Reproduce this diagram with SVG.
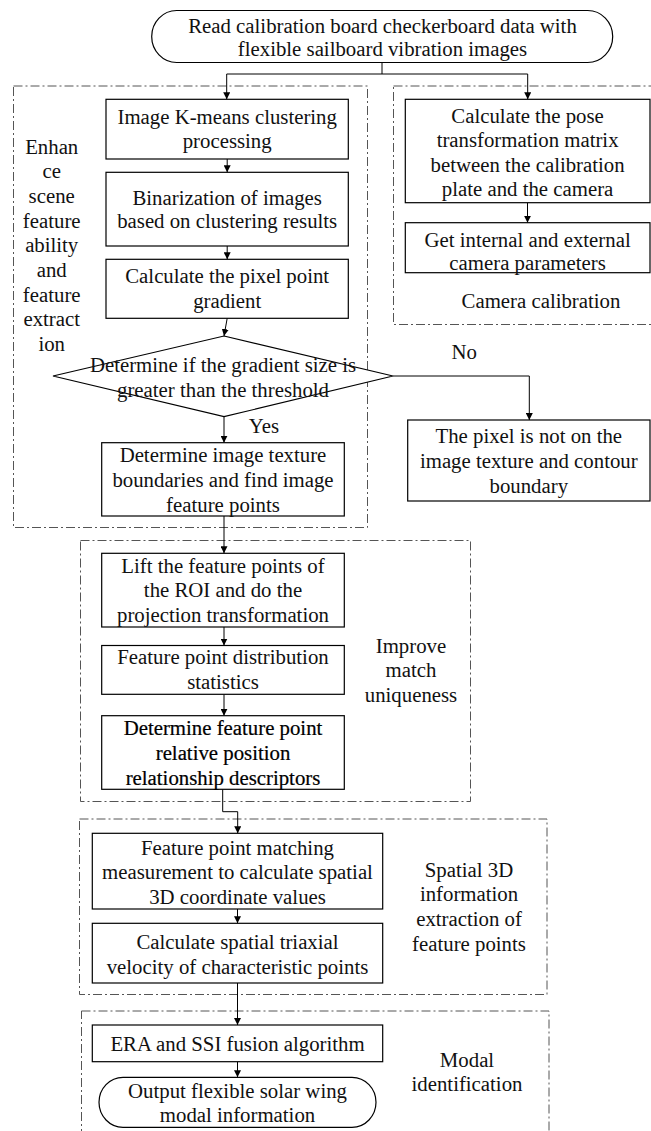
<svg xmlns="http://www.w3.org/2000/svg" width="651" height="1131" viewBox="0 0 651 1131">
<defs>
<marker id="ah" viewBox="0 0 10 10" refX="10" refY="5" markerWidth="7" markerHeight="7" markerUnits="userSpaceOnUse" orient="auto">
<path d="M0,0 L10,5 L0,10 z" fill="#000"/>
</marker>
<style>
.box{fill:#fff;stroke:#000;stroke-width:1.2}
.grp{fill:none;stroke:#555;stroke-width:1;stroke-dasharray:9 3 2 3}
.t{font-family:"Liberation Serif","Times New Roman",serif;font-size:20.8px;fill:#111;text-anchor:middle}
.b{fill:#000;stroke:#000;stroke-width:0.22}
.c{fill:none;stroke:#000;stroke-width:1}
.a{marker-end:url(#ah)}
</style>
</defs>
<rect width="651" height="1131" fill="#fff"/>

<g id="groups">
<rect id="g-enhance" class="grp" x="13.5" y="86" width="354" height="441.5"/>
<rect id="g-camera" class="grp" x="393.5" y="86" width="262" height="238.5"/>
<rect id="g-improve" class="grp" x="80.5" y="540.5" width="390" height="261"/>
<rect id="g-spatial" class="grp" x="79.5" y="819" width="467.5" height="175.5"/>
<rect id="g-modal" class="grp" x="81.5" y="1011" width="467.5" height="140"/>
</g>

<g id="connectors">
<path class="c" d="M382,62.3 V74 M226.7,74 H527.7"/>
<path class="c a" d="M226.7,74 V99.3"/>
<path class="c a" d="M527.7,74 V99.3"/>
<path class="c a" d="M227.2,159 V172.3"/>
<path class="c a" d="M227.2,246 V259.3"/>
<path class="c a" d="M227.2,318.3 L224,336"/>
<path class="c a" d="M527.5,202.7 V222.7"/>
<path class="c a" d="M224,416.7 V442.7"/>
<path class="c a" d="M393,376 H529.3 V420"/>
<path class="c a" d="M224,516 V553.3"/>
<path class="c a" d="M224,627 V645.5"/>
<path class="c a" d="M224,694.3 V715.7"/>
<path class="c a" d="M222.7,789.3 V811.7 H237.7 V833.3"/>
<path class="c a" d="M237.5,909 V923.3"/>
<path class="c a" d="M237.5,983 V1025"/>
<path class="c a" d="M237.5,1061.7 V1077.3"/>
</g>

<g id="n-start">
<rect class="box" x="151.7" y="10.5" width="461" height="52" rx="25" ry="26"/>
<text class="t" x="382.5" y="32.5">Read calibration board checkerboard data with</text>
<text class="t" x="382.5" y="56">flexible sailboard vibration images</text>
</g>

<g id="l-enhance">
<text class="t" x="51.7" y="153.5">Enhan</text>
<text class="t" x="51.7" y="178.2">ce</text>
<text class="t" x="51.7" y="202.9">scene</text>
<text class="t" x="51.7" y="227.6">feature</text>
<text class="t" x="51.7" y="252.3">ability</text>
<text class="t" x="51.7" y="277">and</text>
<text class="t" x="51.7" y="301.7">feature</text>
<text class="t" x="51.7" y="326.4">extract</text>
<text class="t" x="51.7" y="351.1">ion</text>
</g>

<g id="n-kmeans">
<rect class="box" x="106" y="99.3" width="242.3" height="59.7"/>
<text class="t" x="227.2" y="123.5">Image K-means clustering</text>
<text class="t" x="227.2" y="148">processing</text>
</g>

<g id="n-binar">
<rect class="box" x="106" y="172.3" width="242.3" height="73.7"/>
<text class="t" x="227.2" y="204.5">Binarization of images</text>
<text class="t" x="227.2" y="228">based on clustering results</text>
</g>

<g id="n-grad">
<rect class="box" x="106" y="259.3" width="242.3" height="59"/>
<text class="t" x="227.2" y="283">Calculate the pixel point</text>
<text class="t" x="227.2" y="308">gradient</text>
</g>

<g id="n-decide">
<polygon class="box" points="224,336 393,376 224,416.7 53,376"/>
<text class="t" x="223" y="371.5">Determine if the gradient size is</text>
<text class="t" x="223" y="396.5">greater than the threshold</text>
</g>

<g id="l-yes"><text class="t" x="264" y="432.5">Yes</text></g>
<g id="l-no"><text class="t" x="464.3" y="358.5">No</text></g>

<g id="n-texture">
<rect class="box" x="101.7" y="442.7" width="242.6" height="73.3"/>
<text class="t" x="223" y="461.5">Determine image texture</text>
<text class="t" x="223" y="486.5">boundaries and find image</text>
<text class="t" x="223" y="511.5">feature points</text>
</g>

<g id="n-pose">
<rect class="box" x="405.3" y="99.3" width="244.7" height="103.4"/>
<text class="t" x="527.6" y="123">Calculate the pose</text>
<text class="t" x="527.6" y="147">transformation matrix</text>
<text class="t" x="527.6" y="171.5">between the calibration</text>
<text class="t" x="527.6" y="196">plate and the camera</text>
</g>

<g id="n-params">
<rect class="box" x="405.3" y="222.7" width="244.7" height="50"/>
<text class="t" x="527.6" y="246.5">Get internal and external</text>
<text class="t" x="527.6" y="270">camera parameters</text>
</g>

<g id="l-camera"><text class="t" x="541" y="308">Camera calibration</text></g>

<g id="n-notpixel">
<rect class="box" x="407.7" y="420" width="242.3" height="81"/>
<text class="t" x="528.8" y="443">The pixel is not on the</text>
<text class="t" x="528.8" y="468">image texture and contour</text>
<text class="t" x="528.8" y="493">boundary</text>
</g>

<g id="n-lift">
<rect class="box" x="101.7" y="553.3" width="242.6" height="73.7"/>
<text class="t" x="223" y="572.5">Lift the feature points of</text>
<text class="t" x="223" y="597">the ROI and do the</text>
<text class="t" x="223" y="621.5">projection transformation</text>
</g>

<g id="n-distr">
<rect class="box" x="101.7" y="645.5" width="242.6" height="48.8"/>
<text class="t" x="223" y="663.5">Feature point distribution</text>
<text class="t" x="223" y="688.5">statistics</text>
</g>

<g id="n-desc">
<rect class="box" x="101.7" y="715.7" width="242.6" height="73.6"/>
<text class="t b" x="223" y="734.5">Determine feature point</text>
<text class="t b" x="223" y="759.5">relative position</text>
<text class="t b" x="223" y="784.5">relationship descriptors</text>
</g>

<g id="l-improve">
<text class="t" x="411" y="653">Improve</text>
<text class="t" x="411" y="677">match</text>
<text class="t" x="411" y="701.5">uniqueness</text>
</g>

<g id="n-match">
<rect class="box" x="92.3" y="833.3" width="290.4" height="75.7"/>
<text class="t" x="237.5" y="854.5">Feature point matching</text>
<text class="t" x="237.5" y="879">measurement to calculate spatial</text>
<text class="t" x="237.5" y="903.5">3D coordinate values</text>
</g>

<g id="n-triax">
<rect class="box" x="92.3" y="923.3" width="290.4" height="59.7"/>
<text class="t" x="237.5" y="949">Calculate spatial triaxial</text>
<text class="t" x="237.5" y="973.5">velocity of characteristic points</text>
</g>

<g id="l-spatial">
<text class="t" x="469" y="876.5">Spatial 3D</text>
<text class="t" x="469" y="900.5">information</text>
<text class="t" x="469" y="925.5">extraction of</text>
<text class="t" x="469" y="950.5">feature points</text>
</g>

<g id="n-era">
<rect class="box" x="92.3" y="1025" width="290.4" height="36.7"/>
<text class="t" x="237.5" y="1050.5">ERA and SSI fusion algorithm</text>
</g>

<g id="n-output">
<rect class="box" x="99" y="1077.3" width="277" height="50" rx="24" ry="25"/>
<text class="t" x="237.5" y="1097.5">Output flexible solar wing</text>
<text class="t" x="237.5" y="1121.5">modal information</text>
</g>

<g id="l-modal">
<text class="t" x="467" y="1066.5">Modal</text>
<text class="t" x="467" y="1091">identification</text>
</g>
</svg>
